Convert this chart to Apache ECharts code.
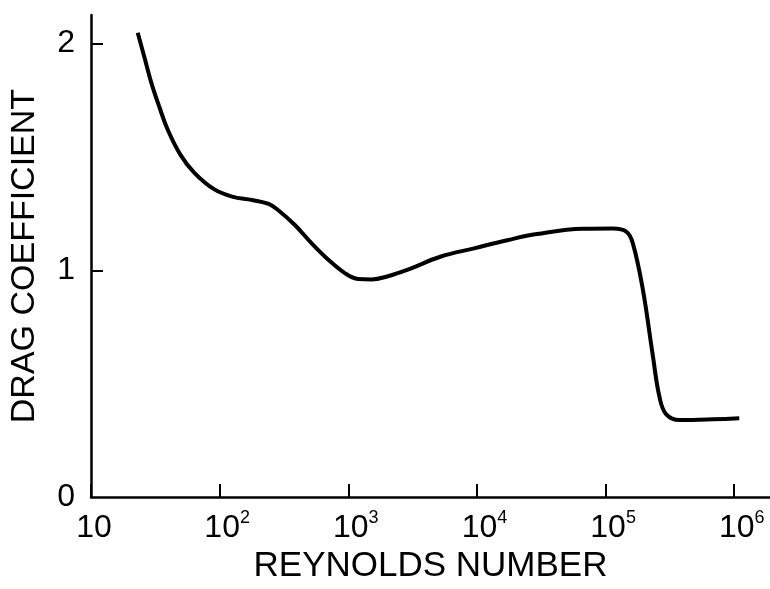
<!DOCTYPE html>
<html>
<head>
<meta charset="utf-8">
<script src="https://cdn.jsdelivr.net/npm/echarts@6/dist/echarts.min.js"></script>
<style>
html,body{margin:0;padding:0;background:#fff;}
#chart{width:770px;height:589px;}
</style>
</head>
<body>
<div id="chart"></div>
<script>
// Reynolds number (x) and drag coefficient (y)
var reynolds = [23.08, 26.14, 29.61, 34.15, 39.36, 49.6, 63.63, 90.36, 125.1, 178.6, 240.4, 287.3, 386, 519.4,
  699.4, 939.8, 1193, 1511, 2032, 2904, 5248, 9506, 17220, 29310, 66830, 114000, 145500, 162900,
  194600, 232600, 263000, 296400, 375800, 676500, 1094000];
var dragCoeff = [2.048, 1.935, 1.822, 1.717, 1.622, 1.509, 1.430, 1.358, 1.325, 1.310, 1.293, 1.264, 1.199, 1.119,
  1.047, 0.988, 0.962, 0.960, 0.974, 1.003, 1.061, 1.097, 1.133, 1.160, 1.183, 1.184, 1.170, 1.119,
  0.917, 0.626, 0.439, 0.365, 0.340, 0.343, 0.348];
var yTickValues = [0, 1, 2];
var yTickMarks = [1, 2];
var xTitle = 'REYNOLDS NUMBER';
var yTitle = 'DRAG COEFFICIENT';

var seriesData = reynolds.map(function (r, i) { return [r, dragCoeff[i]]; });
var FONT = 'Liberation Sans';

var chart = echarts.init(document.getElementById('chart'));
chart.setOption({
  backgroundColor: '#ffffff',
  animation: false,
  grid: { left: 88, right: -1, top: 15, bottom: 85, containLabel: false },
  xAxis: {
    type: 'log',
    logBase: 10,
    min: 10,
    max: Math.pow(10, 6.278),
    name: xTitle,
    nameLocation: 'middle',
    nameGap: 49,
    nameTextStyle: { fontFamily: FONT, fontSize: 35, color: '#000' },
    axisLine: { show: true, lineStyle: { color: '#000', width: 2.5 } },
    axisTick: { show: true, inside: true, length: 13, lineStyle: { color: '#000', width: 2 } },
    minorTick: { show: false },
    splitLine: { show: false },
    axisLabel: {
      showMaxLabel: false,
      margin: 12,
      color: '#000',
      fontFamily: FONT,
      formatter: function (v) {
        var e = Math.round(Math.log(v) / Math.LN10);
        if (e === 1) return '{b0|10}';
        return '{b|10}{s|' + e + '}';
      },
      rich: {
        b0: { fontFamily: FONT, fontSize: 32, lineHeight: 38, color: '#000', padding: [0, 0, 0, 6] },
        b: { fontFamily: FONT, fontSize: 32, lineHeight: 38, color: '#000', padding: [0, 0, 0, 15] },
        s: { fontFamily: FONT, fontSize: 18, lineHeight: 17, color: '#000', verticalAlign: 'top' }
      }
    }
  },
  yAxis: {
    type: 'value',
    min: 0,
    max: 2.126,
    interval: 1,
    name: yTitle,
    nameLocation: 'middle',
    nameRotate: 90,
    nameGap: 49,
    nameTextStyle: { fontFamily: FONT, fontSize: 34, color: '#000' },
    axisLine: { show: true, lineStyle: { color: '#000', width: 2.5 } },
    axisTick: { show: true, inside: true, length: 12, customValues: yTickMarks, lineStyle: { color: '#000', width: 2 } },
    splitLine: { show: false },
    axisLabel: {
      customValues: yTickValues,
      margin: 16,
      color: '#000',
      fontFamily: FONT,
      fontSize: 32
    }
  },
  series: [{
    type: 'line',
    data: seriesData,
    showSymbol: false,
    symbol: 'none',
    smooth: 0.4,
    lineStyle: { color: '#000', width: 4 }
  }]
});
</script>
</body>
</html>
